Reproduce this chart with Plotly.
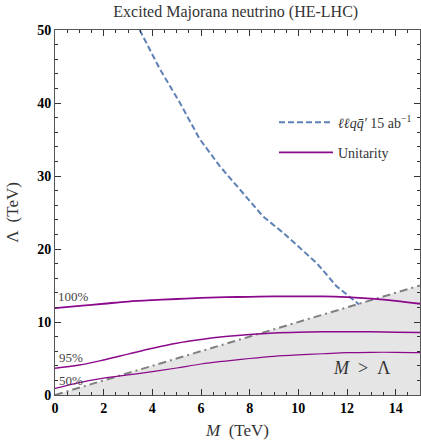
import plotly.graph_objects as go

# Dashed search curve (llqq' 15 ab^-1)
dash_M = [3.48, 4.3, 5.12, 5.94, 6.76, 7.58, 8.54, 9.38, 10.75, 11.57, 12.5]
dash_L = [50.0, 44.7, 40.1, 35.1, 31.4, 28.2, 24.5, 22.2, 18.1, 14.9, 12.4]

# Unitarity curves
unit_M = [0, 1, 2, 3, 4, 5, 6, 7, 8, 9, 10, 11, 12, 13, 14, 15]
unit_100 = [11.9, 12.2, 12.5, 12.8, 13.0, 13.15, 13.3, 13.4, 13.45, 13.5, 13.5, 13.5, 13.4, 13.2, 12.9, 12.5]
unit_95 = [3.65, 4.1, 4.8, 5.6, 6.4, 7.1, 7.6, 8.0, 8.3, 8.5, 8.6, 8.65, 8.65, 8.65, 8.6, 8.55]
unit_50 = [0.9, 1.7, 2.3, 2.75, 3.2, 3.7, 4.25, 4.65, 5.0, 5.3, 5.5, 5.65, 5.8, 5.85, 5.85, 5.8]

# Diagonal M = Lambda
diag_M = [0, 15]
diag_L = [0, 15]

purple = "#8B0A8B"
blue = "#5E81B5"
serif = "Times New Roman"

fig = go.Figure()
fig.add_trace(go.Scatter(x=diag_M, y=diag_L, mode="lines", fill="tozeroy",
                         fillcolor="#e5e5e5",
                         line=dict(color="#808080", width=2, dash="8px,4px,2px,4px"),
                         showlegend=False, hoverinfo="skip"))
fig.add_trace(go.Scatter(x=dash_M, y=dash_L, mode="lines",
                         line=dict(color=blue, width=2, dash="6px,3px"),
                         name="<i>ℓℓqq̄′</i> 15 ab<sup>−1</sup>", legendgroup="a"))
fig.add_trace(go.Scatter(x=unit_M, y=unit_100, mode="lines", line=dict(color=purple, width=1.8, shape="spline"),
                         name="Unitarity", legendgroup="b"))
fig.add_trace(go.Scatter(x=unit_M, y=unit_95, mode="lines", line=dict(color=purple, width=1.5, shape="spline"),
                         showlegend=False))
fig.add_trace(go.Scatter(x=unit_M, y=unit_50, mode="lines", line=dict(color=purple, width=1.2, shape="spline"),
                         showlegend=False))

axis_common = dict(showgrid=False, zeroline=False, showline=True, linecolor="#555555", linewidth=1,
                   mirror="ticks", ticks="inside", tickcolor="#333333", ticklen=6, automargin=False,
                   tickfont=dict(family=serif, size=14, color="black", weight="bold"))

fig.update_xaxes(range=[0, 15], dtick=2, tick0=0,
                 minor=dict(ticks="inside", dtick=0.5, ticklen=3, tickcolor="#333333"),
                 title=dict(text="<i>M</i>  (TeV)", font=dict(family=serif, size=17, color="#333333"), standoff=10),
                 **axis_common)
fig.update_yaxes(range=[0, 50], dtick=10, tick0=0,
                 minor=dict(ticks="inside", dtick=2, ticklen=3, tickcolor="#333333"),
                 title=dict(text="Λ  (TeV)", font=dict(family=serif, size=17, color="#333333"), standoff=14),
                 **axis_common)

ann_font = dict(family=serif, size=13, color="#444444")
fig.add_annotation(x=0.05, y=12.2, text="100%", showarrow=False, xanchor="left", yanchor="bottom", font=ann_font)
fig.add_annotation(x=0.1, y=3.85, text="95%", showarrow=False, xanchor="left", yanchor="bottom", font=ann_font)
fig.add_annotation(x=0.1, y=0.75, text="50%", showarrow=False, xanchor="left", yanchor="bottom", font=ann_font)
fig.add_annotation(x=12.6, y=3.7, text="<i>M</i>  >  Λ", showarrow=False,
                   font=dict(family=serif, size=18, color="#333333"))

fig.update_layout(
    width=421, height=440,
    margin=dict(l=55, r=1, t=30, b=45),
    plot_bgcolor="white", paper_bgcolor="white",
    title=dict(text="Excited Majorana neutrino (HE-LHC)", x=0.56, xanchor="center", y=0.973, yanchor="middle",
               font=dict(family=serif, size=16, color="#333333")),
    legend=dict(x=0.6, y=0.79, xanchor="left", yanchor="top", bgcolor="rgba(0,0,0,0)",
                font=dict(family=serif, size=14, color="#333333"), tracegroupgap=9, itemwidth=54),
    showlegend=True,
)

fig.write_html("out.html", config={"displayModeBar": False},
               post_script="document.body.style.margin='0';document.body.style.overflow='hidden';")
